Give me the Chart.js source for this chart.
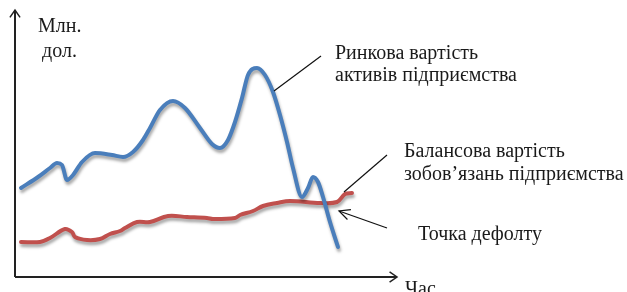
<!DOCTYPE html>
<html>
<head>
<meta charset="utf-8">
<script src="https://cdn.jsdelivr.net/npm/chart.js@4/dist/chart.umd.min.js"></script>
<style>
  html, body { margin: 0; padding: 0; background: #ffffff; }
  #wrap { width: 627px; height: 292px; position: relative; }
</style>
</head>
<body>
<div id="wrap"><canvas id="c" width="627" height="292"></canvas></div>
<script>
// Time axis (arbitrary units) and values (млн. дол.)
const assetTime = [6,23,35,42,47,52,58,67,80,97,108,118,128,135,145,158,170,185,197,205,213,220,227,233,242,250,258,265,272,278,287,293,298,303,308,315,323];
const assetValue = [89,100,109,114,112,97,102,115,124,122,120,125,137,149,167,176,169,149,133,129,137,155,179,202,209,202,185,162,135,109,80,89,100,95,80,55,30];

const debtTime = [6,25,35,50,57,60,72,85,95,105,110,122,135,153,172,192,198,220,225,238,248,262,275,305,322,330,337];
const debtValue = [35,35,39,48,45,40,37,38,43,46,49,55,55,61,60,59,58,59,62,66,71,74,76,74,75,83,84];

const xMax = 380, yMax = 267;

const texts = [
  { t: 'Млн.', x: 23, y: 245 },
  { t: 'дол.', x: 27, y: 220 },
  { t: 'Ринкова вартість', x: 320, y: 218 },
  { t: 'активів підприємства', x: 320, y: 196 },
  { t: 'Балансова вартість', x: 389, y: 120 },
  { t: 'зобов’язань підприємства', x: 389, y: 97 },
  { t: 'Точка дефолту', x: 403, y: 37 },
  { t: 'Час', x: 390, y: -18 }
];
const pointers = [
  { x1: 259, y1: 186, x2: 306, y2: 221, arrow: false },
  { x1: 329, y1: 85, x2: 372, y2: 122, arrow: false },
  { x1: 372, y1: 49, x2: 324, y2: 66, arrow: true }
];

function arrowHead(ctx, x, y, ang, len, spread) {
  ctx.beginPath();
  ctx.moveTo(x - len * Math.cos(ang - spread), y - len * Math.sin(ang - spread));
  ctx.lineTo(x, y);
  ctx.lineTo(x - len * Math.cos(ang + spread), y - len * Math.sin(ang + spread));
  ctx.stroke();
}

const decor = {
  id: 'decor',
  beforeDatasetsDraw(chart) {
    const ctx = chart.ctx;
    const xs = chart.scales.x, ys = chart.scales.y;
    ctx.save();
    ctx.strokeStyle = '#222';
    ctx.lineWidth = 2;
    const x0 = xs.getPixelForValue(0), y0 = ys.getPixelForValue(0);
    const yTop = ys.getPixelForValue(yMax), xEnd = xs.getPixelForValue(xMax + 2);
    ctx.beginPath();
    ctx.moveTo(x0, y0); ctx.lineTo(x0, yTop);
    ctx.moveTo(x0, y0); ctx.lineTo(xEnd, y0);
    ctx.stroke();
    ctx.lineWidth = 1.5;
    arrowHead(ctx, x0, yTop, -Math.PI / 2, 9, 0.6);
    arrowHead(ctx, xEnd, y0, 0, 9, 0.6);
    ctx.restore();
    ctx.save();
    ctx.shadowColor = 'rgba(0,0,0,0.35)';
    ctx.shadowBlur = 3;
    ctx.shadowOffsetX = 1;
    ctx.shadowOffsetY = 3;
  },
  afterDatasetsDraw(chart) {
    const ctx = chart.ctx;
    ctx.restore();
    const xs = chart.scales.x, ys = chart.scales.y;
    ctx.save();
    ctx.strokeStyle = '#111';
    ctx.lineWidth = 1.2;
    pointers.forEach(p => {
      const ax = xs.getPixelForValue(p.x1), ay = ys.getPixelForValue(p.y1);
      const bx = xs.getPixelForValue(p.x2), by = ys.getPixelForValue(p.y2);
      ctx.beginPath(); ctx.moveTo(ax, ay); ctx.lineTo(bx, by); ctx.stroke();
      if (p.arrow) arrowHead(ctx, bx, by, Math.atan2(by - ay, bx - ax), 12, 0.45);
    });
    ctx.fillStyle = '#1a1a1a';
    ctx.font = '20px "Liberation Serif", "DejaVu Serif", serif';
    ctx.textBaseline = 'alphabetic';
    ctx.textAlign = 'left';
    texts.forEach(t => ctx.fillText(t.t, xs.getPixelForValue(t.x), ys.getPixelForValue(t.y)));
    ctx.restore();
  }
};

const toPts = (xs, ys) => xs.map((x, i) => ({ x: x, y: ys[i] }));

new Chart(document.getElementById('c'), {
  type: 'line',
  data: {
    datasets: [
      {
        label: 'Ринкова вартість активів підприємства',
        data: toPts(assetTime, assetValue),
        borderColor: '#4a7ebb',
        borderWidth: 4,
        pointRadius: 0,
        fill: false,
        cubicInterpolationMode: 'monotone',
        borderCapStyle: 'round',
        borderJoinStyle: 'round'
      },
      {
        label: 'Балансова вартість зобов’язань підприємства',
        data: toPts(debtTime, debtValue),
        borderColor: '#c0504d',
        borderWidth: 4,
        pointRadius: 0,
        fill: false,
        tension: 0.35,
        borderCapStyle: 'round',
        borderJoinStyle: 'round'
      }
    ]
  },
  options: {
    responsive: false,
    animation: false,
    layout: { padding: { left: 15, top: 10, right: 232, bottom: 15 } },
    plugins: { legend: { display: false }, tooltip: { enabled: false } },
    scales: {
      x: { type: 'linear', min: 0, max: xMax, display: false },
      y: { type: 'linear', min: 0, max: yMax, display: false }
    }
  },
  plugins: [decor]
});
</script>
</body>
</html>
